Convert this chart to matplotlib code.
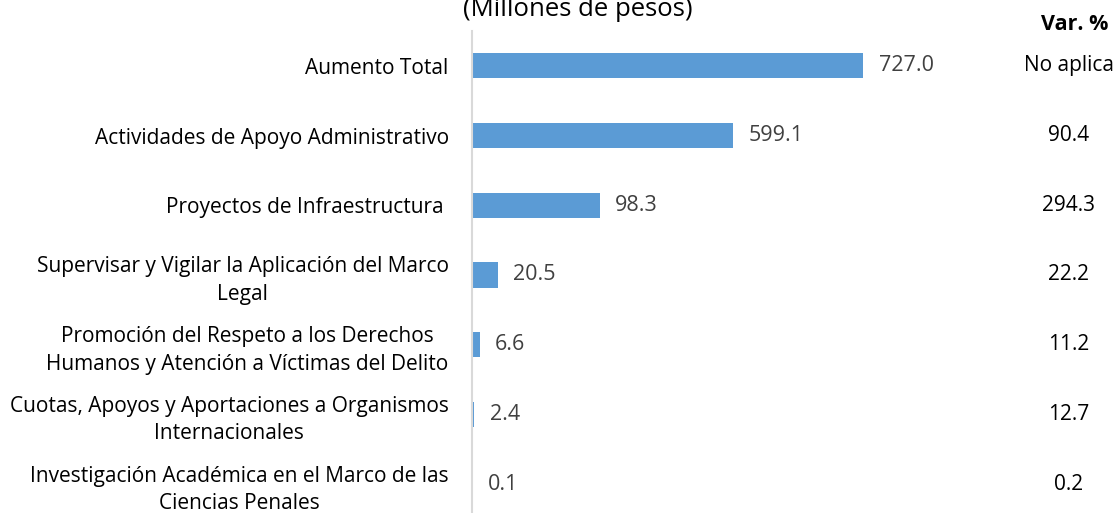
import matplotlib.pyplot as plt
from matplotlib.transforms import blended_transform_factory

categorias = [
    "Aumento Total",
    "Actividades de Apoyo Administrativo",
    "Proyectos de Infraestructura ",
    "Supervisar y Vigilar la Aplicación del Marco\nLegal",
    "Promoción del Respeto a los Derechos\nHumanos y Atención a Víctimas del Delito",
    "Cuotas, Apoyos y Aportaciones a Organismos\nInternacionales",
    "Investigación Académica en el Marco de las\nCiencias Penales",
]
# montos en etiquetas (millones de pesos)
montos = [727.0, 599.1, 98.3, 20.5, 6.6, 2.4, 0.1]
# largo de barra tal como aparece en el original (no es proporcional a la etiqueta)
largo_barra = [727.0, 485.0, 237.0, 48.0, 14.0, 3.7, 0.2]
var_pct = ["No aplica", "90.4", "294.3", "22.2", "11.2", "12.7", "0.2"]

plt.rcParams["font.family"] = ["Open Sans", "DejaVu Sans"]

fig = plt.figure(figsize=(11.18, 5.13), dpi=100)
ax = fig.add_axes([0.4225, -0.0117, 0.481, 0.9513])

pos = list(range(len(categorias)))
ax.barh(pos, largo_barra, height=0.36, color="#5B9BD5")
ax.set_xlim(0, 1000)
ax.set_ylim(len(categorias) - 0.5, -0.5)

ax.set_yticks(pos)
ax.set_yticklabels(categorias, fontsize=15, color="black",
                   multialignment="center", linespacing=1.4)
ax.tick_params(axis="y", length=0, pad=17)
ax.set_xticks([])

for s in ["top", "right", "bottom"]:
    ax.spines[s].set_visible(False)
ax.spines["left"].set_color("#D9D9D9")
ax.spines["left"].set_linewidth(1.5)

for y, b, v in zip(pos, largo_barra, montos):
    ax.annotate(f"{v:.1f}", (b, y), xytext=(11, 0), textcoords="offset points",
                va="center", ha="left", fontsize=15.5, color="#404040")

trans = blended_transform_factory(fig.transFigure, ax.transData)
for y, t in zip(pos, var_pct):
    ax.text(0.956, y, t, transform=trans, ha="center", va="center",
            fontsize=15, color="black")

fig.text(0.961, 1 - 24 / 513, "Var. %", ha="center", va="center",
         fontsize=15.5, fontweight="bold")
fig.text(0.517, 1 - 16 / 513, "(Millones de pesos)", ha="center", va="baseline",
         fontsize=18.5)

fig.savefig("out.png", dpi=100)
